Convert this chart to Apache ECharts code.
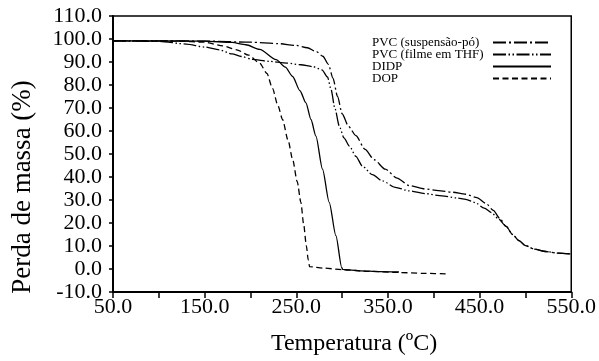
<!DOCTYPE html>
<html><head><meta charset="utf-8">
<script src="https://cdn.jsdelivr.net/npm/echarts@6/dist/echarts.min.js"></script>
<style>html,body{margin:0;padding:0;background:#fff}#c{width:599px;height:361px}</style>
</head><body><div id="c"></div>
<script>
const seriesNames = ['PVC (suspensão-pó)', 'PVC (filme em THF)', 'DIDP', 'DOP'];
const xTicks = [50, 150, 250, 350, 450, 550];
const yTicks = [-10, 0, 10, 20, 30, 40, 50, 60, 70, 80, 90, 100, 110];

const suspT = [50,100,150,200,230,250,262,272,279,285,290,295,300,307,315,325,335,347,360,373,390,405,420,435,447,457,465,472,479,486,493,500,510,522,536,550];
const suspY = [99.2,99.2,99.1,98.6,98.0,97.2,96.2,94.5,92.5,89,83,75,67.5,62,58,52,47.5,43.4,39.5,36.3,34.8,34.1,33.4,32.5,31,28.5,25.5,22,18.5,15,12.3,10.2,8.6,7.6,6.9,6.5];

const thfT = [50,100,130,150,166,180,190,202,220,240,255,268,278,284,288,292,297,302,308,315,322,333,344,358,373,390,409,425,435,445,455,463,470,479,486,493,500,510,522,536,550];
const thfY = [99.2,99.0,97.8,96.5,95.3,93.5,92.4,91.1,90.3,89.5,88.8,88,86.6,83.5,78,70,62,57,53.4,49,44.8,41,38.3,35.5,34,32.8,31.8,30.9,30.3,28.9,26.5,24.5,22,18.5,15,12.3,10.2,8.6,7.6,6.9,6.5];

const didpT = [50,150,180,195,210,228,238,246,254,260.5,266,271.4,278.6,285.9,293.2,299.6,300.6,320,340,362];
const didpY = [99.2,99.1,98.5,97.5,95.5,91,87.8,83.7,77.5,72.2,65,57.8,43.4,29,14.5,0.6,-0.2,-0.8,-1.1,-1.3];

const dopT = [50,120,150,170,185,198,210,218,224,230,235,241,246,251,255,258,261,263,264.5,280,300,330,360,390,414];
const dopY = [99.2,99.1,98.6,97,95.3,93,89.5,85,78.5,71,65,56,47.7,38,29,19.5,10,4,1,0.4,-0.3,-1.0,-1.5,-1.9,-2.1];

function pairs(xs, ys){ return xs.map((x,i)=>[x, ys[i]]); }

const serif = 'Liberation Serif, Times New Roman, serif';
const chart = echarts.init(document.getElementById('c'), null, {renderer:'canvas'});
const dashes = [[13,3,2,3],[13,2.5,1.5,2.5,1.5,2.5],null,[6,3.5]];
const dataSets = [pairs(suspT,suspY), pairs(thfT,thfY), pairs(didpT,didpY), pairs(dopT,dopY)];

chart.setOption({
  animation:false,
  backgroundColor:'#fff',
  grid:{left:113, right:26, top:16, bottom:67, show:true, borderColor:'#000', borderWidth:1.5},
  legend:{
    orient:'vertical', left:367, top:31, itemGap:-1, itemWidth:58, itemHeight:12, align:'right',
    itemStyle:{opacity:0},
    formatter: n => '{a|' + n + '}',
    textStyle:{fontFamily:serif, fontSize:13, color:'#000',
      rich:{a:{width:116, align:'left', fontFamily:serif, fontSize:13, color:'#000'}}},
    data: seriesNames
  },
  xAxis:{
    type:'value', min:50, max:550, interval:50,
    name:'Temperatura (ºC)', nameLocation:'middle', nameGap:40,
    nameTextStyle:{fontFamily:serif, fontSize:24, color:'#000', padding:[0,0,0,24]},
    axisLine:{onZero:false, lineStyle:{color:'#000', width:2}},
    axisTick:{inside:false, length:6, lineStyle:{color:'#000', width:1.5}},
    axisLabel:{fontFamily:serif, fontSize:22, color:'#000', margin:4,
      formatter:v=> xTicks.includes(v) ? v.toFixed(1) : ''},
    splitLine:{show:false}
  },
  yAxis:{
    type:'value', min:-10, max:110, interval:10,
    name:'Perda de massa (%)', nameLocation:'middle', nameGap:77,
    nameTextStyle:{fontFamily:serif, fontSize:27, color:'#000', padding:[0,66,0,0]},
    axisLine:{show:true, onZero:false, lineStyle:{color:'#000', width:2}},
    axisTick:{show:true, inside:false, length:4, lineStyle:{color:'#000', width:1.5}},
    axisLabel:{fontFamily:serif, fontSize:22, color:'#000', margin:11,
      formatter:v=> yTicks.includes(v) ? v.toFixed(1) : ''},
    splitLine:{show:false}
  },
  series: seriesNames.map((n,i)=>({
    name:n, type:'line', data:dataSets[i], showSymbol:false, symbol:'none',
    smooth:0.25, smoothMonotone:'x',
    lineStyle:{color:'#000', width:1.3, type: dashes[i] || 'solid'},
    itemStyle:{color:'#000'}
  }))
});
</script></body></html>
